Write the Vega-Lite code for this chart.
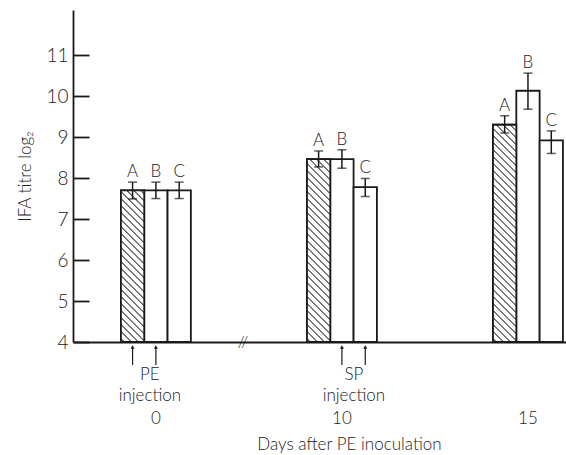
{
  "$schema": "https://vega.github.io/schema/vega-lite/v6.json",
  "width": 493,
  "height": 332,
  "autosize": {"type": "none"},
  "padding": {"left": 73, "top": 10, "right": 0, "bottom": 113},
  "background": "white",
  "config": {
    "view": {"stroke": null},
    "font": "Lato"
  },
  "datasets": {
    "bars": [
      {"day": "0", "group": "A", "value": 7.7, "lo": 7.49, "hi": 7.9},
      {"day": "0", "group": "B", "value": 7.7, "lo": 7.5, "hi": 7.9},
      {"day": "0", "group": "C", "value": 7.7, "lo": 7.5, "hi": 7.9},
      {"day": "10", "group": "A", "value": 8.46, "lo": 8.27, "hi": 8.66},
      {"day": "10", "group": "B", "value": 8.46, "lo": 8.24, "hi": 8.69},
      {"day": "10", "group": "C", "value": 7.78, "lo": 7.55, "hi": 7.99},
      {"day": "15", "group": "A", "value": 9.3, "lo": 9.1, "hi": 9.52},
      {"day": "15", "group": "B", "value": 10.13, "lo": 9.68, "hi": 10.56},
      {"day": "15", "group": "C", "value": 8.92, "lo": 8.6, "hi": 9.15}
    ],
    "arrows": [
      {"day": "0", "group": "A"},
      {"day": "0", "group": "B"},
      {"day": "10", "group": "B"},
      {"day": "10", "group": "C"}
    ],
    "notes": [
      {"day": "0", "note": "PE\ninjection"},
      {"day": "10", "note": "SP\ninjection"}
    ]
  },
  "layer": [
    {
      "data": {"name": "bars"},
      "mark": {"type": "bar", "fill": "white", "stroke": "#1a1a1a", "strokeWidth": 1.8},
      "encoding": {
        "x": {
          "field": "day", "type": "ordinal",
          "scale": {"domain": ["0", "10", "15"], "paddingInner": 0.624, "paddingOuter": 0.137, "align": 0.94},
          "axis": {
            "title": "Days after PE inoculation",
            "labelAngle": 0, "ticks": false, "labelPadding": 68,
            "labelFontSize": 17, "labelFont": "Lato", "labelFontWeight": 300, "labelColor": "#222",
            "domainColor": "#1a1a1a", "domainWidth": 1.8,
            "titleFont": "Lato", "titleFontSize": 17, "titleFontWeight": 300, "titleColor": "#222",
            "titleX": 276, "titleY": 107, "titleBaseline": "alphabetic", "titleAlign": "center"
          }
        },
        "xOffset": {"field": "group", "type": "nominal", "scale": {"domain": ["A", "B", "C"], "paddingInner": 0, "paddingOuter": 0}},
        "y": {
          "field": "value", "type": "quantitative",
          "scale": {"domain": [4, 12.1], "zero": false, "nice": false},
          "axis": {
            "title": "IFA titre log₂", "values": [4, 5, 6, 7, 8, 9, 10, 11],
            "grid": false, "ticks": true, "tickSize": -16, "tickWidth": 1.8, "tickColor": "#1a1a1a", "tickOpacity": 1,
            "domainColor": "#1a1a1a", "domainWidth": 1.8,
            "labelFontSize": 19, "labelFont": "Lato", "labelFontWeight": 300, "labelColor": "#222", "labelPadding": 21,
            "titleFont": "Lato", "titleFontSize": 17, "titleFontWeight": 300, "titleColor": "#222", "titlePadding": 11
          }
        },
        "y2": {"datum": 4}
      }
    },
    {
      "data": {"name": "bars"},
      "transform": [{"filter": "datum.group === 'A' && datum.day === '0'"}],
      "mark": {"type": "bar", "stroke": "#1a1a1a", "strokeWidth": 1.8,
        "fill": {"gradient": "linear", "x1": 0, "y1": 1, "x2": 0.2426, "y2": -0.5777, "stops": [
          {"offset": 0, "color": "white"},
          {"offset": 0.0083, "color": "white"}, {"offset": 0.0143, "color": "#333"}, {"offset": 0.0203, "color": "white"},
          {"offset": 0.0369, "color": "white"}, {"offset": 0.0429, "color": "#333"}, {"offset": 0.0489, "color": "white"},
          {"offset": 0.0654, "color": "white"}, {"offset": 0.0714, "color": "#333"}, {"offset": 0.0774, "color": "white"},
          {"offset": 0.094, "color": "white"}, {"offset": 0.1, "color": "#333"}, {"offset": 0.106, "color": "white"},
          {"offset": 0.1226, "color": "white"}, {"offset": 0.1286, "color": "#333"}, {"offset": 0.1346, "color": "white"},
          {"offset": 0.1511, "color": "white"}, {"offset": 0.1571, "color": "#333"}, {"offset": 0.1631, "color": "white"},
          {"offset": 0.1797, "color": "white"}, {"offset": 0.1857, "color": "#333"}, {"offset": 0.1917, "color": "white"},
          {"offset": 0.2083, "color": "white"}, {"offset": 0.2143, "color": "#333"}, {"offset": 0.2203, "color": "white"},
          {"offset": 0.2369, "color": "white"}, {"offset": 0.2429, "color": "#333"}, {"offset": 0.2489, "color": "white"},
          {"offset": 0.2654, "color": "white"}, {"offset": 0.2714, "color": "#333"}, {"offset": 0.2774, "color": "white"},
          {"offset": 0.294, "color": "white"}, {"offset": 0.3, "color": "#333"}, {"offset": 0.306, "color": "white"},
          {"offset": 0.3226, "color": "white"}, {"offset": 0.3286, "color": "#333"}, {"offset": 0.3346, "color": "white"},
          {"offset": 0.3511, "color": "white"}, {"offset": 0.3571, "color": "#333"}, {"offset": 0.3631, "color": "white"},
          {"offset": 0.3797, "color": "white"}, {"offset": 0.3857, "color": "#333"}, {"offset": 0.3917, "color": "white"},
          {"offset": 0.4083, "color": "white"}, {"offset": 0.4143, "color": "#333"}, {"offset": 0.4203, "color": "white"},
          {"offset": 0.4369, "color": "white"}, {"offset": 0.4429, "color": "#333"}, {"offset": 0.4489, "color": "white"},
          {"offset": 0.4654, "color": "white"}, {"offset": 0.4714, "color": "#333"}, {"offset": 0.4774, "color": "white"},
          {"offset": 0.494, "color": "white"}, {"offset": 0.5, "color": "#333"}, {"offset": 0.506, "color": "white"},
          {"offset": 0.5226, "color": "white"}, {"offset": 0.5286, "color": "#333"}, {"offset": 0.5346, "color": "white"},
          {"offset": 0.5511, "color": "white"}, {"offset": 0.5571, "color": "#333"}, {"offset": 0.5631, "color": "white"},
          {"offset": 0.5797, "color": "white"}, {"offset": 0.5857, "color": "#333"}, {"offset": 0.5917, "color": "white"},
          {"offset": 0.6083, "color": "white"}, {"offset": 0.6143, "color": "#333"}, {"offset": 0.6203, "color": "white"},
          {"offset": 0.6369, "color": "white"}, {"offset": 0.6429, "color": "#333"}, {"offset": 0.6489, "color": "white"},
          {"offset": 0.6654, "color": "white"}, {"offset": 0.6714, "color": "#333"}, {"offset": 0.6774, "color": "white"},
          {"offset": 0.694, "color": "white"}, {"offset": 0.7, "color": "#333"}, {"offset": 0.706, "color": "white"},
          {"offset": 0.7226, "color": "white"}, {"offset": 0.7286, "color": "#333"}, {"offset": 0.7346, "color": "white"},
          {"offset": 0.7511, "color": "white"}, {"offset": 0.7571, "color": "#333"}, {"offset": 0.7631, "color": "white"},
          {"offset": 0.7797, "color": "white"}, {"offset": 0.7857, "color": "#333"}, {"offset": 0.7917, "color": "white"},
          {"offset": 0.8083, "color": "white"}, {"offset": 0.8143, "color": "#333"}, {"offset": 0.8203, "color": "white"},
          {"offset": 0.8369, "color": "white"}, {"offset": 0.8429, "color": "#333"}, {"offset": 0.8489, "color": "white"},
          {"offset": 0.8654, "color": "white"}, {"offset": 0.8714, "color": "#333"}, {"offset": 0.8774, "color": "white"},
          {"offset": 0.894, "color": "white"}, {"offset": 0.9, "color": "#333"}, {"offset": 0.906, "color": "white"},
          {"offset": 0.9226, "color": "white"}, {"offset": 0.9286, "color": "#333"}, {"offset": 0.9346, "color": "white"},
          {"offset": 0.9511, "color": "white"}, {"offset": 0.9571, "color": "#333"}, {"offset": 0.9631, "color": "white"},
          {"offset": 0.9797, "color": "white"}, {"offset": 0.9857, "color": "#333"}, {"offset": 0.9917, "color": "white"},
          {"offset": 1, "color": "white"}
        ]}},
      "encoding": {
        "x": {"field": "day", "type": "ordinal"},
        "xOffset": {"field": "group", "type": "nominal"},
        "y": {"field": "value", "type": "quantitative"},
        "y2": {"datum": 4}
      }
    },
    {
      "data": {"name": "bars"},
      "transform": [{"filter": "datum.group === 'A' && datum.day === '10'"}],
      "mark": {"type": "bar", "stroke": "#1a1a1a", "strokeWidth": 1.8,
        "fill": {"gradient": "linear", "x1": 0, "y1": 1, "x2": 0.1683, "y2": -0.3188, "stops": [
          {"offset": 0, "color": "white"},
          {"offset": 0.0083, "color": "white"}, {"offset": 0.0143, "color": "#333"}, {"offset": 0.0203, "color": "white"},
          {"offset": 0.0369, "color": "white"}, {"offset": 0.0429, "color": "#333"}, {"offset": 0.0489, "color": "white"},
          {"offset": 0.0654, "color": "white"}, {"offset": 0.0714, "color": "#333"}, {"offset": 0.0774, "color": "white"},
          {"offset": 0.094, "color": "white"}, {"offset": 0.1, "color": "#333"}, {"offset": 0.106, "color": "white"},
          {"offset": 0.1226, "color": "white"}, {"offset": 0.1286, "color": "#333"}, {"offset": 0.1346, "color": "white"},
          {"offset": 0.1511, "color": "white"}, {"offset": 0.1571, "color": "#333"}, {"offset": 0.1631, "color": "white"},
          {"offset": 0.1797, "color": "white"}, {"offset": 0.1857, "color": "#333"}, {"offset": 0.1917, "color": "white"},
          {"offset": 0.2083, "color": "white"}, {"offset": 0.2143, "color": "#333"}, {"offset": 0.2203, "color": "white"},
          {"offset": 0.2369, "color": "white"}, {"offset": 0.2429, "color": "#333"}, {"offset": 0.2489, "color": "white"},
          {"offset": 0.2654, "color": "white"}, {"offset": 0.2714, "color": "#333"}, {"offset": 0.2774, "color": "white"},
          {"offset": 0.294, "color": "white"}, {"offset": 0.3, "color": "#333"}, {"offset": 0.306, "color": "white"},
          {"offset": 0.3226, "color": "white"}, {"offset": 0.3286, "color": "#333"}, {"offset": 0.3346, "color": "white"},
          {"offset": 0.3511, "color": "white"}, {"offset": 0.3571, "color": "#333"}, {"offset": 0.3631, "color": "white"},
          {"offset": 0.3797, "color": "white"}, {"offset": 0.3857, "color": "#333"}, {"offset": 0.3917, "color": "white"},
          {"offset": 0.4083, "color": "white"}, {"offset": 0.4143, "color": "#333"}, {"offset": 0.4203, "color": "white"},
          {"offset": 0.4369, "color": "white"}, {"offset": 0.4429, "color": "#333"}, {"offset": 0.4489, "color": "white"},
          {"offset": 0.4654, "color": "white"}, {"offset": 0.4714, "color": "#333"}, {"offset": 0.4774, "color": "white"},
          {"offset": 0.494, "color": "white"}, {"offset": 0.5, "color": "#333"}, {"offset": 0.506, "color": "white"},
          {"offset": 0.5226, "color": "white"}, {"offset": 0.5286, "color": "#333"}, {"offset": 0.5346, "color": "white"},
          {"offset": 0.5511, "color": "white"}, {"offset": 0.5571, "color": "#333"}, {"offset": 0.5631, "color": "white"},
          {"offset": 0.5797, "color": "white"}, {"offset": 0.5857, "color": "#333"}, {"offset": 0.5917, "color": "white"},
          {"offset": 0.6083, "color": "white"}, {"offset": 0.6143, "color": "#333"}, {"offset": 0.6203, "color": "white"},
          {"offset": 0.6369, "color": "white"}, {"offset": 0.6429, "color": "#333"}, {"offset": 0.6489, "color": "white"},
          {"offset": 0.6654, "color": "white"}, {"offset": 0.6714, "color": "#333"}, {"offset": 0.6774, "color": "white"},
          {"offset": 0.694, "color": "white"}, {"offset": 0.7, "color": "#333"}, {"offset": 0.706, "color": "white"},
          {"offset": 0.7226, "color": "white"}, {"offset": 0.7286, "color": "#333"}, {"offset": 0.7346, "color": "white"},
          {"offset": 0.7511, "color": "white"}, {"offset": 0.7571, "color": "#333"}, {"offset": 0.7631, "color": "white"},
          {"offset": 0.7797, "color": "white"}, {"offset": 0.7857, "color": "#333"}, {"offset": 0.7917, "color": "white"},
          {"offset": 0.8083, "color": "white"}, {"offset": 0.8143, "color": "#333"}, {"offset": 0.8203, "color": "white"},
          {"offset": 0.8369, "color": "white"}, {"offset": 0.8429, "color": "#333"}, {"offset": 0.8489, "color": "white"},
          {"offset": 0.8654, "color": "white"}, {"offset": 0.8714, "color": "#333"}, {"offset": 0.8774, "color": "white"},
          {"offset": 0.894, "color": "white"}, {"offset": 0.9, "color": "#333"}, {"offset": 0.906, "color": "white"},
          {"offset": 0.9226, "color": "white"}, {"offset": 0.9286, "color": "#333"}, {"offset": 0.9346, "color": "white"},
          {"offset": 0.9511, "color": "white"}, {"offset": 0.9571, "color": "#333"}, {"offset": 0.9631, "color": "white"},
          {"offset": 0.9797, "color": "white"}, {"offset": 0.9857, "color": "#333"}, {"offset": 0.9917, "color": "white"},
          {"offset": 1, "color": "white"}
        ]}},
      "encoding": {
        "x": {"field": "day", "type": "ordinal"},
        "xOffset": {"field": "group", "type": "nominal"},
        "y": {"field": "value", "type": "quantitative"},
        "y2": {"datum": 4}
      }
    },
    {
      "data": {"name": "bars"},
      "transform": [{"filter": "datum.group === 'A' && datum.day === '15'"}],
      "mark": {"type": "bar", "stroke": "#1a1a1a", "strokeWidth": 1.8,
        "fill": {"gradient": "linear", "x1": 0, "y1": 1, "x2": 0.1198, "y2": -0.1151, "stops": [
          {"offset": 0, "color": "white"},
          {"offset": 0.0083, "color": "white"}, {"offset": 0.0143, "color": "#333"}, {"offset": 0.0203, "color": "white"},
          {"offset": 0.0369, "color": "white"}, {"offset": 0.0429, "color": "#333"}, {"offset": 0.0489, "color": "white"},
          {"offset": 0.0654, "color": "white"}, {"offset": 0.0714, "color": "#333"}, {"offset": 0.0774, "color": "white"},
          {"offset": 0.094, "color": "white"}, {"offset": 0.1, "color": "#333"}, {"offset": 0.106, "color": "white"},
          {"offset": 0.1226, "color": "white"}, {"offset": 0.1286, "color": "#333"}, {"offset": 0.1346, "color": "white"},
          {"offset": 0.1511, "color": "white"}, {"offset": 0.1571, "color": "#333"}, {"offset": 0.1631, "color": "white"},
          {"offset": 0.1797, "color": "white"}, {"offset": 0.1857, "color": "#333"}, {"offset": 0.1917, "color": "white"},
          {"offset": 0.2083, "color": "white"}, {"offset": 0.2143, "color": "#333"}, {"offset": 0.2203, "color": "white"},
          {"offset": 0.2369, "color": "white"}, {"offset": 0.2429, "color": "#333"}, {"offset": 0.2489, "color": "white"},
          {"offset": 0.2654, "color": "white"}, {"offset": 0.2714, "color": "#333"}, {"offset": 0.2774, "color": "white"},
          {"offset": 0.294, "color": "white"}, {"offset": 0.3, "color": "#333"}, {"offset": 0.306, "color": "white"},
          {"offset": 0.3226, "color": "white"}, {"offset": 0.3286, "color": "#333"}, {"offset": 0.3346, "color": "white"},
          {"offset": 0.3511, "color": "white"}, {"offset": 0.3571, "color": "#333"}, {"offset": 0.3631, "color": "white"},
          {"offset": 0.3797, "color": "white"}, {"offset": 0.3857, "color": "#333"}, {"offset": 0.3917, "color": "white"},
          {"offset": 0.4083, "color": "white"}, {"offset": 0.4143, "color": "#333"}, {"offset": 0.4203, "color": "white"},
          {"offset": 0.4369, "color": "white"}, {"offset": 0.4429, "color": "#333"}, {"offset": 0.4489, "color": "white"},
          {"offset": 0.4654, "color": "white"}, {"offset": 0.4714, "color": "#333"}, {"offset": 0.4774, "color": "white"},
          {"offset": 0.494, "color": "white"}, {"offset": 0.5, "color": "#333"}, {"offset": 0.506, "color": "white"},
          {"offset": 0.5226, "color": "white"}, {"offset": 0.5286, "color": "#333"}, {"offset": 0.5346, "color": "white"},
          {"offset": 0.5511, "color": "white"}, {"offset": 0.5571, "color": "#333"}, {"offset": 0.5631, "color": "white"},
          {"offset": 0.5797, "color": "white"}, {"offset": 0.5857, "color": "#333"}, {"offset": 0.5917, "color": "white"},
          {"offset": 0.6083, "color": "white"}, {"offset": 0.6143, "color": "#333"}, {"offset": 0.6203, "color": "white"},
          {"offset": 0.6369, "color": "white"}, {"offset": 0.6429, "color": "#333"}, {"offset": 0.6489, "color": "white"},
          {"offset": 0.6654, "color": "white"}, {"offset": 0.6714, "color": "#333"}, {"offset": 0.6774, "color": "white"},
          {"offset": 0.694, "color": "white"}, {"offset": 0.7, "color": "#333"}, {"offset": 0.706, "color": "white"},
          {"offset": 0.7226, "color": "white"}, {"offset": 0.7286, "color": "#333"}, {"offset": 0.7346, "color": "white"},
          {"offset": 0.7511, "color": "white"}, {"offset": 0.7571, "color": "#333"}, {"offset": 0.7631, "color": "white"},
          {"offset": 0.7797, "color": "white"}, {"offset": 0.7857, "color": "#333"}, {"offset": 0.7917, "color": "white"},
          {"offset": 0.8083, "color": "white"}, {"offset": 0.8143, "color": "#333"}, {"offset": 0.8203, "color": "white"},
          {"offset": 0.8369, "color": "white"}, {"offset": 0.8429, "color": "#333"}, {"offset": 0.8489, "color": "white"},
          {"offset": 0.8654, "color": "white"}, {"offset": 0.8714, "color": "#333"}, {"offset": 0.8774, "color": "white"},
          {"offset": 0.894, "color": "white"}, {"offset": 0.9, "color": "#333"}, {"offset": 0.906, "color": "white"},
          {"offset": 0.9226, "color": "white"}, {"offset": 0.9286, "color": "#333"}, {"offset": 0.9346, "color": "white"},
          {"offset": 0.9511, "color": "white"}, {"offset": 0.9571, "color": "#333"}, {"offset": 0.9631, "color": "white"},
          {"offset": 0.9797, "color": "white"}, {"offset": 0.9857, "color": "#333"}, {"offset": 0.9917, "color": "white"},
          {"offset": 1, "color": "white"}
        ]}},
      "encoding": {
        "x": {"field": "day", "type": "ordinal"},
        "xOffset": {"field": "group", "type": "nominal"},
        "y": {"field": "value", "type": "quantitative"},
        "y2": {"datum": 4}
      }
    },
    {
      "data": {"name": "bars"},
      "mark": {"type": "rule", "color": "#1a1a1a", "strokeWidth": 1.5},
      "encoding": {
        "x": {"field": "day", "type": "ordinal"},
        "xOffset": {"field": "group", "type": "nominal"},
        "y": {"field": "lo", "type": "quantitative"},
        "y2": {"field": "hi"}
      }
    },
    {
      "data": {"name": "bars"},
      "mark": {"type": "tick", "color": "#1a1a1a", "thickness": 1.5, "size": 9},
      "encoding": {
        "x": {"field": "day", "type": "ordinal"},
        "xOffset": {"field": "group", "type": "nominal"},
        "y": {"field": "lo", "type": "quantitative"}
      }
    },
    {
      "data": {"name": "bars"},
      "mark": {"type": "tick", "color": "#1a1a1a", "thickness": 1.5, "size": 9},
      "encoding": {
        "x": {"field": "day", "type": "ordinal"},
        "xOffset": {"field": "group", "type": "nominal"},
        "y": {"field": "hi", "type": "quantitative"}
      }
    },
    {
      "data": {"name": "bars"},
      "mark": {"type": "text", "fontSize": 17, "font": "Lato", "fontWeight": 300, "fill": "#222", "baseline": "alphabetic", "dy": -5},
      "encoding": {
        "x": {"field": "day", "type": "ordinal"},
        "xOffset": {"field": "group", "type": "nominal"},
        "y": {"field": "hi", "type": "quantitative"},
        "text": {"field": "group"}
      }
    },
    {
      "data": {"name": "arrows"},
      "mark": {"type": "rule", "color": "#1a1a1a", "strokeWidth": 1.2},
      "encoding": {
        "x": {"field": "day", "type": "ordinal"},
        "xOffset": {"field": "group", "type": "nominal"},
        "y": {"datum": 3.44},
        "y2": {"datum": 3.88}
      }
    },
    {
      "data": {"name": "arrows"},
      "mark": {"type": "point", "shape": "triangle-up", "filled": true, "color": "#1a1a1a", "size": 16, "opacity": 1},
      "encoding": {
        "x": {"field": "day", "type": "ordinal"},
        "xOffset": {"field": "group", "type": "nominal"},
        "y": {"datum": 3.88}
      }
    },
    {
      "data": {"name": "notes"},
      "transform": [{"filter": "datum.day === '0'"}],
      "mark": {"type": "text", "fontSize": 17, "font": "Lato", "fontWeight": 300, "fill": "#222", "baseline": "top", "lineBreak": "\n", "lineHeight": 21, "dy": 25, "dx": -6},
      "encoding": {
        "x": {"field": "day", "type": "ordinal"},
        "y": {"datum": 4},
        "text": {"field": "note"}
      }
    },
    {
      "data": {"name": "notes"},
      "transform": [{"filter": "datum.day === '10'"}],
      "mark": {"type": "text", "fontSize": 17, "font": "Lato", "fontWeight": 300, "fill": "#222", "baseline": "top", "lineBreak": "\n", "lineHeight": 21, "dy": 25, "dx": 12},
      "encoding": {
        "x": {"field": "day", "type": "ordinal"},
        "y": {"datum": 4},
        "text": {"field": "note"}
      }
    },
    {
      "data": {"name": "notes"},
      "transform": [{"filter": "datum.day === '0'"}],
      "mark": {"type": "text", "fontSize": 16, "font": "Lato", "fontWeight": 300, "fill": "#222", "baseline": "middle", "dx": 87, "text": "//"},
      "encoding": {
        "x": {"field": "day", "type": "ordinal"},
        "y": {"datum": 4}
      }
    }
  ]
}
